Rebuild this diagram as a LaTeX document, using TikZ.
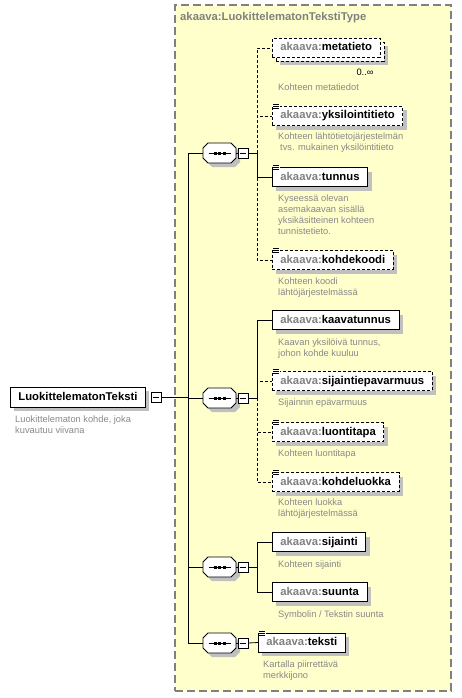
\documentclass[tikz,border=0pt]{standalone}
\usepackage{fontspec}
\setmainfont{Liberation Sans}
\usetikzlibrary{shadows}
\definecolor{bgyel}{RGB}{255,255,204}
\definecolor{framec}{RGB}{128,128,128}
\definecolor{pfx}{RGB}{128,128,128}
\definecolor{descc}{RGB}{136,136,136}
\definecolor{shad}{RGB}{192,192,192}
\newlength{\metaw}
\newcommand{\pf}{\textcolor{pfx}{akaava:}}
\newcommand{\docicon}[1]{%
  \fill[white] ([xshift=0.5pt,yshift=2pt]#1.north west) rectangle ([xshift=8pt,yshift=-4pt]#1.north west);
  \foreach \dy in {1.5,-0.5,-2.5}{\draw[line width=0.7pt] ([xshift=1pt,yshift=\dy pt]#1.north west) -- ([xshift=7pt,yshift=\dy pt]#1.north west);}
}
\newcommand{\seqc}[2]{%
  \node[inner sep=0pt, minimum width=33pt, minimum height=20pt] (#1) at (219.5,#2) {};
  \begin{scope}[shift={(219.5,#2)}]
    \fill[shad, shift={(4,4)}] (-11.5,-10) -- (11.5,-10) -- (16.5,-5) -- (16.5,5) -- (11.5,10) -- (-11.5,10) -- (-16.5,5) -- (-16.5,-5) -- cycle;
    \draw[fill=white, line width=0.8pt] (-11.5,-10) -- (11.5,-10) -- (16.5,-5) -- (16.5,5) -- (11.5,10) -- (-11.5,10) -- (-16.5,5) -- (-16.5,-5) -- cycle;
    \draw[line width=0.8pt] (-11,0) -- (11,0);
    \fill (-6,-1.5) rectangle (-3,1.5);
    \fill (-1.5,-1.5) rectangle (1.5,1.5);
    \fill (3,-1.5) rectangle (6,1.5);
  \end{scope}
  \node[minusbox] (#1m) at (243,#2) {};
  \draw[line width=0.7pt] ([xshift=2pt]#1m.west) -- ([xshift=-2pt]#1m.east);
  \draw[conn] (#1.east) -- (#1m.west);
}
\begin{document}
\settowidth{\metaw}{\fontsize{11.3}{13}\selectfont\bfseries akaava:metatieto}
\addtolength{\metaw}{16pt}
\begin{tikzpicture}[x=1pt,y=-1pt,
  shadowed/.style={drop shadow={shadow xshift=4pt,shadow yshift=-4pt,fill=shad,opacity=1}},
  elem/.style={draw=black, fill=white, anchor=west, minimum height=19pt, inner xsep=8pt, inner ysep=0pt,
    text height=8.5pt, text depth=2.5pt, font=\fontsize{11.3}{13}\selectfont\bfseries, line width=0.8pt},
  req/.style={elem, shadowed},
  opt/.style={elem, shadowed, dash pattern=on 3pt off 2pt},
  descr/.style={anchor=north west, align=left, inner sep=0pt, text=descc, font=\fontsize{9.3}{11}\selectfont},
  conn/.style={line width=0.8pt},
  dconn/.style={conn, dash pattern=on 3pt off 2pt},
  minusbox/.style={draw, fill=white, minimum size=10pt, inner sep=0pt, line width=0.7pt}
]
\useasboundingbox (0,0) rectangle (461,698);

% type frame
\node[draw=framec, fill=bgyel, line width=1.1pt, dash pattern=on 8pt off 4pt, minimum width=276pt, minimum height=686pt, inner sep=0pt] (frame) at (313,348) {};
\node[anchor=west, inner sep=0pt, text=pfx, font=\fontsize{11.3}{13}\selectfont\bfseries] (title) at (180,18) {akaava:LuokittelematonTekstiType};

% root
\node[req, minimum height=20pt] (root) at (10,397) {LuokittelematonTeksti};
\node[minusbox] (rootm) at (156,397.5) {};
\draw[line width=0.7pt] ([xshift=2pt]rootm.west) -- ([xshift=-2pt]rootm.east);
\node[descr] (rootd) at (15,416) {Luokittelematon kohde, joka\\kuvautuu viivana};

% compositors
\seqc{s1}{153}
\seqc{s2}{398}
\seqc{s3}{567}
\seqc{s4}{643}

% trunk
\coordinate (tTop) at (188,153);
\coordinate (tBot) at (188,643);
\draw[conn] (rootm.east) -- (rootm.east -| tTop);
\draw[conn] (tTop) -- (tBot);
\draw[conn] (tTop) -- (s1.west);
\draw[conn] (188,398) -- (s2.west);
\draw[conn] (188,567) -- (s3.west);
\draw[conn] (tBot) -- (s4.west);

% group 1 elements
\node[opt, minimum width=\metaw] (metaback) at (276,52) {};
\node[elem, dash pattern=on 3pt off 2pt] (metatieto) at (272,48) {\pf metatieto};
\node[anchor=center, inner sep=0pt, font=\fontsize{9.3}{11}\selectfont] (metamult) at (365,72) {0..∞};
\node[descr] (metad) at (278,84) {Kohteen metatiedot};

\node[opt] (yksi) at (272,116) {\pf yksilointitieto};
\docicon{yksi}
\node[descr] (yksid) at (278,133) {Kohteen lähtötietojärjestelmän\\\hspace{2pt}tvs. mukainen yksilöintitieto};

\node[req] (tunnus) at (272,177) {\pf tunnus};
\docicon{tunnus}
\node[descr] (tunnusd) at (278,195) {Kyseessä olevan\\asemakaavan sisällä\\yksikäsitteinen kohteen\\tunnistetieto.};

\node[opt] (kohdekoodi) at (272,260) {\pf kohdekoodi};
\docicon{kohdekoodi}
\node[descr] (kohdekoodid) at (278,278) {Kohteen koodi\\lähtöjärjestelmässä};

\coordinate (b1) at (257,153);
\draw[conn] (s1m.east) -- (b1);
\draw[dconn] (b1) |- (metatieto.west);
\draw[dconn] (b1) |- (yksi.west);
\draw[dconn] (b1) |- (kohdekoodi.west);
\draw[conn] (b1) |- (tunnus.west);

% group 2 elements
\node[req] (kaava) at (272,320) {\pf kaavatunnus};
\node[descr] (kaavad) at (278,339) {Kaavan yksilöivä tunnus,\\johon kohde kuuluu};

\node[opt] (sijep) at (272,381) {\pf sijaintiepavarmuus};
\docicon{sijep}
\node[descr] (sijepd) at (278,399) {Sijainnin epävarmuus};

\node[opt] (luonti) at (272,432) {\pf luontitapa};
\docicon{luonti}
\node[descr] (luontid) at (278,450) {Kohteen luontitapa};

\node[opt] (kluokka) at (272,482) {\pf kohdeluokka};
\docicon{kluokka}
\node[descr] (kluokkad) at (278,499) {Kohteen luokka\\lähtöjärjestelmässä};

\coordinate (b2) at (257,398);
\draw[conn] (s2m.east) -- (b2);
\draw[dconn] (b2) |- (sijep.west);
\draw[dconn] (b2) |- (luonti.west);
\draw[dconn] (b2) |- (kluokka.west);
\draw[conn] (b2) |- (kaava.west);

% group 3 elements
\node[req] (sijainti) at (272,542) {\pf sijainti};
\node[descr] (sijaintid) at (278,561) {Kohteen sijainti};
\node[req] (suunta) at (272,592) {\pf suunta};
\node[descr] (suuntad) at (278,611) {Symbolin / Tekstin suunta};

\coordinate (b3) at (257,567);
\draw[conn] (s3m.east) -- (b3);
\draw[conn] (b3) |- (sijainti.west);
\draw[conn] (b3) |- (suunta.west);

% group 4 elements
\node[req] (teksti) at (258,642.5) {\pf teksti};
\docicon{teksti}
\node[descr] (tekstid) at (263,661) {Kartalla piirrettävä\\merkkijono};
\draw[conn] (s4m.east) -- (teksti.west);
\end{tikzpicture}
\end{document}
